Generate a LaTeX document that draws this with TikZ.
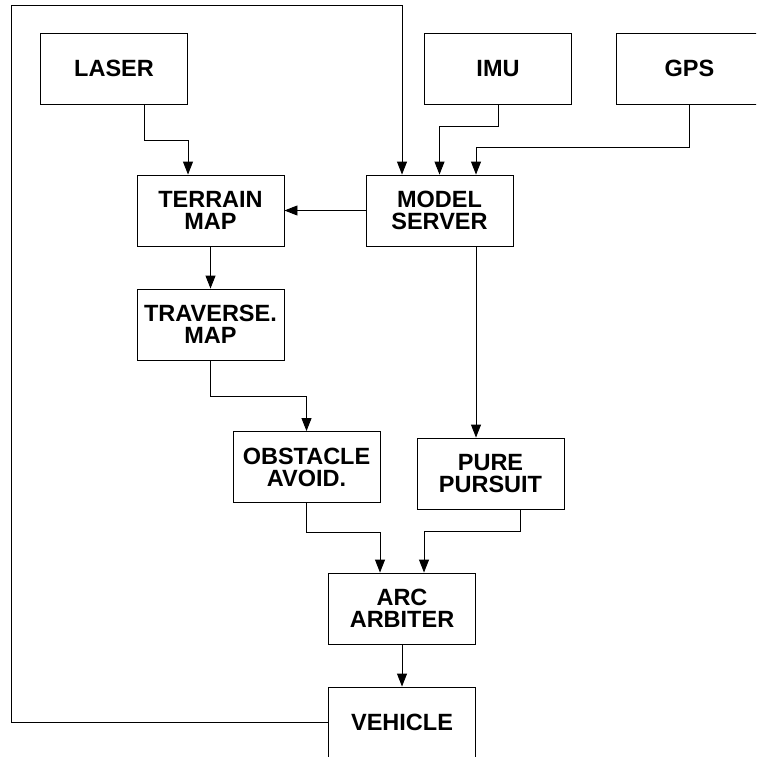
\documentclass[tikz,border=0pt]{standalone}
\usepackage{fontspec}
\setmainfont{Liberation Sans}
\usetikzlibrary{arrows.meta,positioning,calc}

\begin{document}
\begin{tikzpicture}[x=1pt,y=-1pt,
block/.style={draw,line width=.9pt,minimum width=147pt,minimum height=71pt,inner sep=0pt,align=center,font=\fontsize{23.5}{22}\selectfont\bfseries},
arr/.style={-{Triangle[length=13pt,width=10pt]},line width=.9pt},
link/.style={line width=.9pt}]
\useasboundingbox(0,0)rectangle(756,757);
\clip(0,0)rectangle(756,757);
\node[block](laser)at(114,68.5){LASER};
\node[block](imu)at(498,68.5){IMU};
\node[block](gps)at(689.5,68.5){GPS};
\node[block](terrain)at(210.5,210.5){TERRAIN\\MAP};
\node[block](model)at(439.5,210.5){MODEL\\SERVER};
\node[block](traverse)at(210.5,324.5){TRAVERSE.\\MAP};
\node[block](obstacle)at(306.5,467){OBSTACLE\\AVOID.};
\node[block](pursuit)at(490.5,473.5){PURE\\PURSUIT};
\node[block](arc)at(402,608.5){ARC\\ARBITER};
\node[block](vehicle)at(402,722.5){VEHICLE};
\coordinate(looptop)at(11,5);
% sensors into the maps
\draw[arr]([xshift=30pt]laser.south)--++(0,36)-|([xshift=-22.5pt]terrain.north);
\draw[arr](imu.south)--++(0,22)-|(model.north);
\draw[arr](gps.south)--++(0,43)-|([xshift=36.5pt]model.north);
\draw[arr](vehicle.west)-|(looptop)-|([xshift=-37.5pt]model.north);
\draw[arr](model.west)--(terrain.east);
% planning chain
\draw[arr](terrain.south)--(traverse.north);
\draw[arr](traverse.south)--++(0,36)-|(obstacle.north);
\draw[arr]([xshift=36.5pt]model.south)--([xshift=-14.5pt]pursuit.north);
\draw[arr](obstacle.south)--++(0,29)-|([xshift=-22pt]arc.north);
\draw[arr]([xshift=29.5pt]pursuit.south)--++(0,22)-|([xshift=22pt]arc.north);
\draw[arr](arc.south)--(vehicle.north);
\end{tikzpicture}
\end{document}
